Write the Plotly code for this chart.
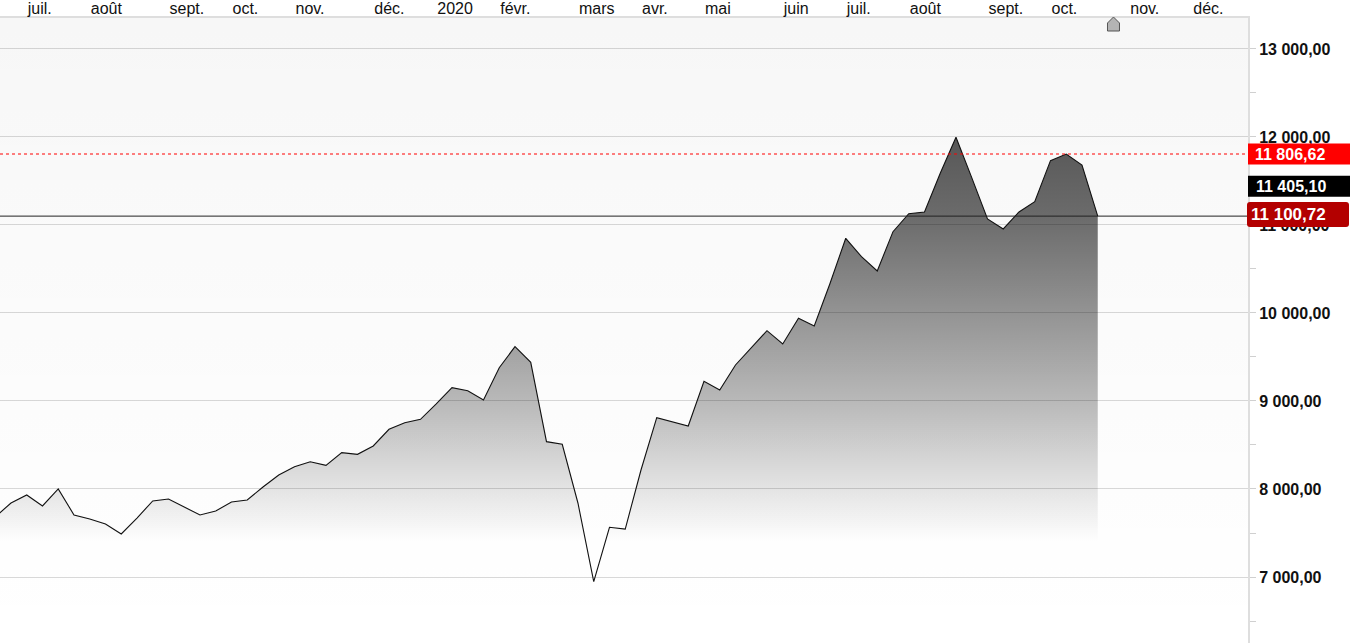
import plotly.graph_objects as go

# ---- data (weekly closes) ----
week_index = list(range(-1, 70))
close_values = [7683, 7841, 7932, 7807, 8000, 7705, 7659, 7602, 7489, 7670,
                7864, 7886, 7795, 7705, 7750, 7852, 7875, 8023, 8159, 8253,
                8310, 8269, 8413, 8394, 8489, 8678, 8753, 8792, 8966, 9151,
                9117, 9011, 9378, 9617, 9440, 8538, 8508, 7838, 6947, 7565,
                7545, 8216, 8810, 8765, 8716, 9224, 9125, 9409, 9599, 9799,
                9648, 9940, 9852, 10335, 10849, 10640, 10477, 10924, 11128, 11148,
                11588, 11997, 11538, 11068, 10955, 11148, 11265, 11731, 11806.62, 11682,
                11100.72]

month_tick_index = [1, 5, 10, 14, 18, 23, 27, 31, 36, 40, 44, 49, 53, 57, 62, 66, 71, 75]
month_tick_text = ["juil.", "août", "sept.", "oct.", "nov.", "déc.", "2020", "févr.", "mars",
                   "avr.", "mai", "juin", "juil.", "août", "sept.", "oct.", "nov.", "déc."]

high_level = 11806.62
mid_level = 11405.10
last_level = 11100.72
event_index = [70]

x_range = [-0.698, 78.54]
y_range = [6250, 13352]

fig = go.Figure()

# subtle background gradient
fig.add_trace(go.Scatter(
    x=x_range, y=[y_range[1], y_range[1]], mode="lines", line=dict(width=0),
    fill="tozeroy",
    fillgradient=dict(type="vertical",
                      colorscale=[[0, "rgba(0,0,0,0)"], [1, "rgba(0,0,0,0.032)"]],
                      start=y_range[0], stop=y_range[1]),
    hoverinfo="skip", showlegend=False))

# main area
fig.add_trace(go.Scatter(
    x=week_index, y=close_values, mode="lines",
    line=dict(color="#111111", width=1.1),
    fill="tozeroy",
    fillgradient=dict(type="vertical",
                      colorscale=[[0, "rgba(0,0,0,0)"], [0.35, "rgba(0,0,0,0.27)"],
                                  [0.5, "rgba(0,0,0,0.37)"], [0.8, "rgba(0,0,0,0.57)"],
                                  [1, "rgba(0,0,0,0.65)"]],
                      start=7400, stop=12000),
    hoverinfo="skip", showlegend=False))

box_w = 102 / 1248
shapes = [
    dict(type="line", xref="paper", x0=0, x1=1, yref="y", y0=high_level, y1=high_level,
         line=dict(color="#ff0000", width=1, dash="dot")),
    dict(type="line", xref="paper", x0=0, x1=1, yref="y", y0=last_level, y1=last_level,
         line=dict(color="#222222", width=1)),
    dict(type="rect", xref="paper", x0=1, x1=1 + box_w, yref="y", ysizemode="pixel",
         yanchor=high_level, y0=-10.5, y1=10.5, fillcolor="#ff0000", line=dict(width=0)),
    dict(type="rect", xref="paper", x0=1, x1=1 + box_w, yref="y", ysizemode="pixel",
         yanchor=mid_level, y0=-7.5, y1=13.5, fillcolor="#000000", line=dict(width=0)),
    dict(type="path", xref="paper", xsizemode="pixel", xanchor=1, yref="y",
         ysizemode="pixel", yanchor=last_level,
         path="M2,-11 L98,-11 Q101,-11 101,-8 L101,11 Q101,14 98,14 L2,14 Q-1,14 -1,11 "
              "L-1,-8 Q-1,-11 2,-11 Z",
         fillcolor="#b30000", line=dict(width=0)),
]
for ev in event_index:
    shapes.append(dict(type="path", xref="x", xsizemode="pixel", xanchor=ev,
                       yref="paper", ysizemode="pixel", yanchor=1,
                       path="M-6,-13 L6,-13 L6,-5 L0,1 L-6,-5 Z",
                       fillcolor="#b4b4b4", line=dict(color="#555555", width=1)))

annotations = [
    dict(xref="paper", x=1, xanchor="left", xshift=5, yref="y", y=high_level, yanchor="middle",
         text="11 806,62", showarrow=False,
         font=dict(family="Liberation Sans, Arial", size=16, color="white", weight="bold")),
    dict(xref="paper", x=1, xanchor="left", xshift=6, yref="y", y=mid_level, yanchor="middle",
         yshift=3, text="11 405,10", showarrow=False,
         font=dict(family="Liberation Sans, Arial", size=16, color="white", weight="bold")),
    dict(xref="paper", x=1, xanchor="left", xshift=1, yref="y", y=last_level, yanchor="middle",
         yshift=1.5, text="11 100,72", showarrow=False,
         font=dict(family="Liberation Sans, Arial", size=17, color="white", weight="bold")),
]

fig.update_layout(
    width=1350, height=643,
    margin=dict(l=0, r=102, t=18, b=0, autoexpand=False),
    paper_bgcolor="white", plot_bgcolor="white",
    separators=", ",
    showlegend=False,
    shapes=shapes,
    annotations=annotations,
    xaxis=dict(range=x_range, side="top", tickvals=month_tick_index, ticktext=month_tick_text,
               ticks="", showgrid=False, zeroline=False, showline=True,
               linecolor="#dedede", linewidth=2, ticklabelposition="outside right",
               ticklabelstandoff=-4,
               tickfont=dict(family="Liberation Sans, Arial", size=16, color="#111111"),
               automargin=False, fixedrange=True),
    yaxis=dict(range=y_range, side="right", dtick=1000, tick0=0, tickformat=",.2f",
               showgrid=True, gridcolor="#d9d9d9", gridwidth=1, zeroline=False,
               ticks="outside", ticklen=6, tickcolor="#d0d0d0",
               showline=True, linecolor="#dedede", linewidth=2,
               minor=dict(dtick=500, ticks="outside", ticklen=6, tickcolor="#d0d0d0",
                          showgrid=False),
               tickfont=dict(family="Liberation Sans, Arial", size=16, color="#111111",
                             weight="bold"),
               automargin=False, fixedrange=True),
)

fig.write_html("out.html", config={"displayModeBar": False},
               post_script="document.body.style.margin='0';document.body.style.overflow='hidden';")
